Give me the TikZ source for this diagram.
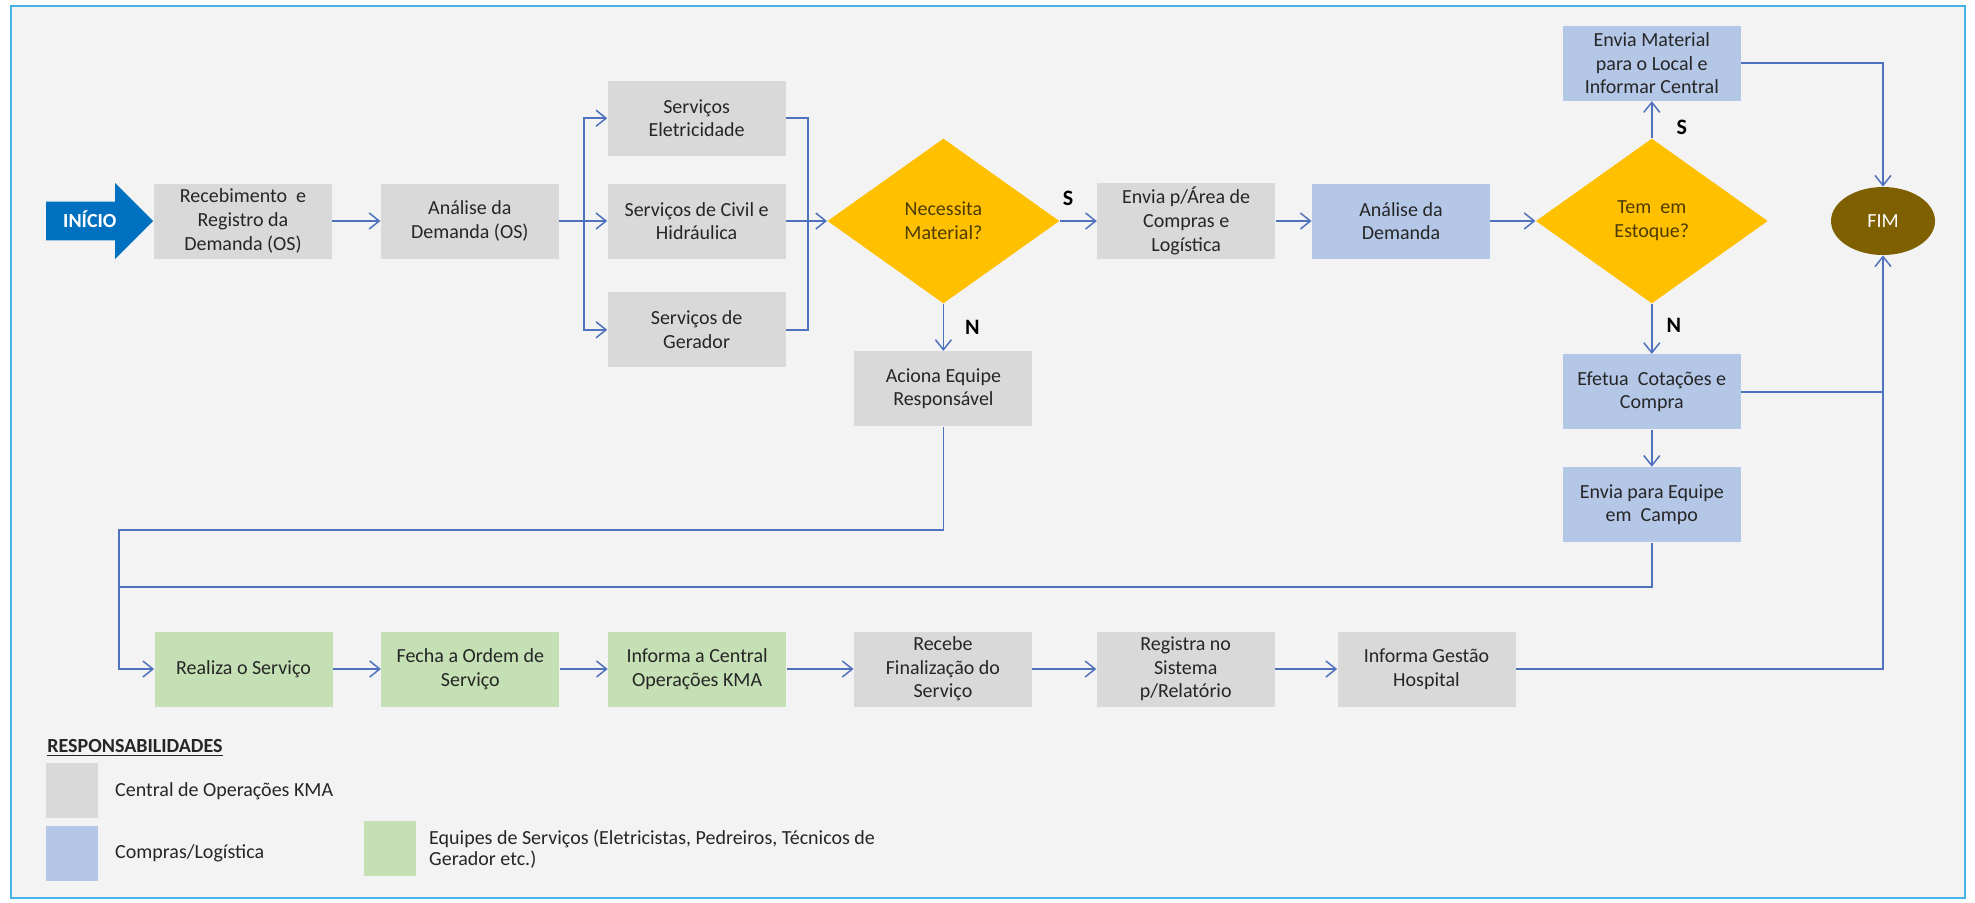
\documentclass[tikz,border=0pt]{standalone}
\usepackage{fontspec}
\setmainfont{Carlito}
\usetikzlibrary{positioning,shapes.geometric,shapes.arrows,arrows.meta}

\definecolor{cinzaKMA}{HTML}{D9D9D9}
\definecolor{azulCompras}{HTML}{B4C7E7}
\definecolor{verdeEquipe}{HTML}{C5E0B4}
\definecolor{ouro}{HTML}{FFC000}
\definecolor{oliva}{HTML}{7F6000}
\definecolor{azulInicio}{HTML}{0070C0}
\definecolor{linha}{RGB}{79,114,190}
\definecolor{moldura}{RGB}{70,180,230}
\definecolor{fundo}{HTML}{F3F3F3}
\definecolor{texto}{HTML}{262626}
\definecolor{textoDec}{HTML}{4D3B00}

\tikzset{
	caixa/.style={rectangle, minimum width=89pt, minimum height=37.5pt, inner sep=2pt, align=center, text=texto, font=\fontsize{10}{11.85}\selectfont},
	central/.style={caixa, fill=cinzaKMA},
	compras/.style={caixa, fill=azulCompras},
	equipe/.style={caixa, fill=verdeEquipe},
	decisao/.style={diamond, fill=ouro, minimum width=116pt, minimum height=82.5pt, inner sep=0pt, align=center, text=textoDec, font=\fontsize{10}{11.85}\selectfont},
	rotulo/.style={font=\fontsize{11}{12}\selectfont\bfseries, inner sep=0pt},
	seta/.style={draw=linha, line width=0.75pt, -{Straight Barb[length=5pt,width=8pt]}},
	liga/.style={draw=linha, line width=0.75pt},
	amostra/.style={minimum width=26pt, minimum height=27.5pt, inner sep=0pt},
	legtxt/.style={anchor=west, inner sep=0pt, align=left, text=texto, font=\fontsize{10}{10.5}\selectfont},
}

\begin{document}
\begin{tikzpicture}[x=1pt, y=1pt]
			\useasboundingbox (0,0) rectangle (987.5,-451);
			
			% Frame
			\fill[white] (0,0) rectangle (987.5,-451);
			\draw[fill=fundo, draw=moldura, line width=1pt] (5.5,-3) rectangle (982.5,-449);
			
			% Define nodes
			\node[central]                      			(receb) at (121.5,-110.5) {Recebimento \ e\\Registro da\\Demanda (OS)};
			\node[single arrow, fill=azulInicio, text=white, font=\fontsize{10}{12}\selectfont\bfseries, single arrow head extend=9.25pt, single arrow tip angle=90, minimum height=53.5pt, inner ysep=6.25pt, text height=6.5pt, text depth=0pt, anchor=tip] (inicio) at (receb.west) {INÍCIO};
			\node[central, right=24pt of receb]  			(analise) {Análise da\\Demanda (OS)};
			\node[central, right=24pt of analise]  			(civil) {Serviços de Civil e\\Hidráulica};
			\node[central, above=13.5pt of civil]  			(eletr) {Serviços\\Eletricidade};
			\node[central, below=16.5pt of civil]  			(gerad) {Serviços de\\Gerador};
			\node[decisao, right=20.5pt of civil]  			(necess) {Necessita\\Material?};
			\node[central, below=23.5pt of necess]  		(aciona) {Aciona Equipe\\Responsável};
			\node[central, right=18.5pt of necess]  		(envarea) {Envia p/Área de\\Compras e\\Logística};
			\node[compras, right=18pt of envarea]  			(anadem) {Análise da\\Demanda};
			\node[decisao, right=22.5pt of anadem]  		(estoque) {Tem \ em\\Estoque?};
			\node[compras, above=18.5pt of estoque]  		(envmat) {Envia Material\\para o Local e\\Informar Central};
			\node[compras, below=25pt of estoque]  			(efetua) {Efetua \ Cotações e\\Compra};
			\node[compras, below=18.5pt of efetua]  		(enveq) {Envia para Equipe\\em \ Campo};
			\node[ellipse, fill=oliva, text=white, minimum width=52pt, minimum height=34pt, font=\fontsize{10}{12}\selectfont] (fim) at (941.5,-110.5) {FIM};
			
			\node[equipe]                       			(realiza) at (121.75,-334.5) {Realiza o Serviço};
			\node[equipe, right=24pt of realiza]  			(fecha) {Fecha a Ordem de\\Serviço};
			\node[equipe, right=24pt of fecha]  			(informa) {Informa a Central\\Operações KMA};
			\node[central, right=33.5pt of informa]  		(recebe) {Recebe\\Finalização do\\Serviço};
			\node[central, right=32pt of recebe]  			(registra) {Registra no\\Sistema\\p/Relatório};
			\node[central, right=31pt of registra]  		(infges) {Informa Gestão\\Hospital};
			
			\coordinate[right=12.5pt of analise.east] (divide);
			\coordinate[right=11pt of civil.east] (junta);
			\coordinate (retorno) at (59.5,-265);
			\coordinate (retorno2) at (59.5,-293.5);
			
			% Connect the nodes
			\draw[seta] (receb) -- (analise);
			\draw[seta] (analise) -- (civil);
			\draw[seta] (divide) |- (eletr);
			\draw[seta] (divide) |- (gerad);
			\draw[liga] (eletr) -| (junta) |- (gerad);
			\draw[seta] (civil) -- (necess);
			\draw[seta] (necess) -- node[rotulo, pos=0.22, above=7.5pt] (necS) {S} (envarea);
			\draw[seta] (necess) -- node[rotulo, pos=0.5, right=10.5pt] (necN) {N} (aciona);
			\draw[seta] (envarea) -- (anadem);
			\draw[seta] (anadem) -- (estoque);
			\draw[seta] (estoque) -- node[rotulo, pos=0.3, right=12pt] (estS) {S} (envmat);
			\draw[seta] (estoque) -- node[rotulo, pos=0.43, right=7pt] (estN) {N} (efetua);
			\draw[seta] (efetua) -- (enveq);
			\draw[seta] (envmat) -| (fim);
			\draw[liga] (efetua) -- (efetua -| fim);
			\draw[seta] (infges) -| (fim);
			\draw[seta] (aciona) |- (retorno) |- (realiza);
			\draw[liga] (enveq) |- (retorno2);
			\draw[seta] (realiza) -- (fecha);
			\draw[seta] (fecha) -- (informa);
			\draw[seta] (informa) -- (recebe);
			\draw[seta] (recebe) -- (registra);
			\draw[seta] (registra) -- (infges);
			
			% Legend
			\node[anchor=base west, inner sep=0pt, text=texto, font=\fontsize{10}{12}\selectfont\bfseries] (resp) at (23.5,-376) {\underline{RESPONSABILIDADES}};
			\node[amostra, fill=cinzaKMA, anchor=north west] (legcinza) at (23,-381.5) {};
			\node[amostra, fill=azulCompras, below=3.5pt of legcinza] (legazul) {};
			\node[amostra, fill=verdeEquipe, anchor=north west] (legverde) at (182,-410.5) {};
			\node[legtxt, right=8pt of legcinza] (txtcinza) {Central de Operações KMA};
			\node[legtxt, right=8pt of legazul] (txtazul) {Compras/Logística};
			\node[legtxt, right=6pt of legverde] (txtverde) {Equipes de Serviços (Eletricistas, Pedreiros, Técnicos de\\Gerador etc.)};
			
\end{tikzpicture}
\end{document}
